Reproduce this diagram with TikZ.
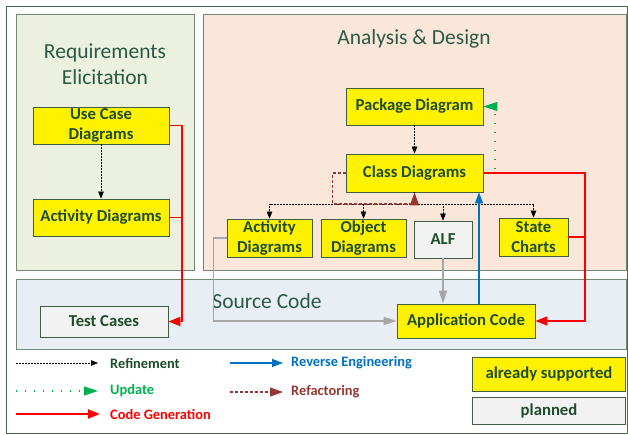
\documentclass[tikz,border=0pt]{standalone}
\usepackage{fontspec}
\setmainfont{Carlito}
\usetikzlibrary{arrows.meta,positioning,calc}

\definecolor{txtgreen}{HTML}{1E4D2B}
\definecolor{titlegreen}{HTML}{2A5A45}
\definecolor{frameedge}{HTML}{466A50}
\definecolor{areaedge}{HTML}{6F8B76}
\definecolor{boxedge}{HTML}{3F5F44}
\definecolor{reqfill}{HTML}{EBF1DE}
\definecolor{anafill}{HTML}{FBE7DA}
\definecolor{srcfill}{HTML}{E9EDF4}
\definecolor{planfill}{HTML}{F2F2F2}
\definecolor{genred}{HTML}{FF0000}
\definecolor{revblue}{HTML}{0070C0}
\definecolor{updgreen}{HTML}{00B050}
\definecolor{refbrown}{HTML}{943634}
\definecolor{plangray}{HTML}{A6A6A6}

\newcommand{\boxfont}{\bfseries\fontsize{16.7}{20}\selectfont}
\newcommand{\titlefont}{\fontsize{21.5}{26}\selectfont}
\newcommand{\legfont}{\bfseries\fontsize{14.4}{17}\selectfont}

\begin{document}
\begin{tikzpicture}[x=1pt,y=-1pt,
    area/.style={draw=areaedge, line width=0.9pt},
    box/.style={draw=boxedge, line width=0.8pt, fill=yellow, font=\boxfont,
      text=txtgreen, align=center, inner sep=0pt},
    planbox/.style={box, fill=planfill},
    areatitle/.style={font=\titlefont, text=titlegreen, align=center},
    legtxt/.style={font=\legfont, anchor=west, inner sep=0pt},
    refine/.style={black, line width=0.7pt, dash pattern=on 2pt off 1pt,
      -{Triangle[length=7pt,width=5.5pt]}},
    codegen/.style={genred, line width=1.8pt, -{Triangle[length=12pt,width=9pt]}},
    revarrow/.style={revblue, line width=1.5pt, -{Triangle[length=11pt,width=8pt]}},
    update/.style={updgreen, line width=1.3pt, dash pattern=on 1.3pt off 7.7pt,
      -{Triangle[length=14pt,width=9pt]}},
    refactor/.style={refbrown, line width=1.1pt, dash pattern=on 3pt off 2pt,
      -{Triangle[length=13pt,width=9pt]}},
    plan/.style={plangray, line width=1.5pt, -{Triangle[length=13pt,width=8pt]}}]
  \useasboundingbox (0,0) rectangle (628,434);
  \draw[frameedge, line width=0.9pt] (6,6) rectangle (627,433);

  % areas
  \draw[area, fill=reqfill] (16,14) rectangle (194,270);
  \draw[area, fill=anafill] (203,14) rectangle (626,270);
  \draw[area, fill=srcfill] (16,279) rectangle (626,349);
  \node[areatitle] (reqtitle) at (105,64) {Requirements\\Elicitation};
  \node[areatitle] (anatitle) at (414,39) {Analysis \& Design};
  \node[areatitle] (srctitle) at (267,301) {Source Code};

  % requirements
  \node[box, minimum width=136pt, minimum height=37pt] (uc) at (101,125.5) {Use Case\\Diagrams};
  \node[box, minimum width=136pt, minimum height=37pt] (actl) at (101,217.5) {Activity Diagrams};

  % analysis & design
  \node[box, minimum width=137pt, minimum height=37pt] (pkg) at (414.5,106.5) {Package Diagram};
  \node[box, minimum width=137pt, minimum height=38pt] (cls) at (414.5,173) {Class Diagrams};
  \node[box, minimum width=85pt, minimum height=38pt] (actm) at (269.5,238) {Activity\\Diagrams};
  \node[box, minimum width=85pt, minimum height=38pt] (obj) at (363.5,238) {Object\\Diagrams};
  \node[planbox, minimum width=58pt, minimum height=37pt] (alf) at (443,239.5) {ALF};
  \node[box, minimum width=69pt, minimum height=38pt] (sc) at (533.5,237) {State\\Charts};

  % source code
  \node[planbox, minimum width=128pt, minimum height=31pt] (tc) at (104,321.5) {Test Cases};
  \node[box, minimum width=138pt, minimum height=34pt] (app) at (466,321) {Application Code};

  % legend boxes
  \node[box, minimum width=153pt, minimum height=34pt] (lgsup) at (549,374) {already supported};
  \node[planbox, minimum width=153pt, minimum height=27pt] (lgplan) at (549,410.5) {planned};

  % refinement
  \coordinate (fork) at (414.5,204);
  \draw[refine] (uc) -- (actl);
  \draw[refine] (pkg) -- (cls);
  \draw[refine] (cls.south) -- (fork) -| (actm.north);
  \draw[refine] (cls.south) -- (fork) -| (obj.north);
  \draw[refine] (cls.south) -- (fork) -| (alf.north);
  \draw[refine] (cls.south) -- (fork) -| (sc.north);

  % refactoring
  \draw[refactor] (cls.west) -- ++(-13,0) |- (fork) -- (cls.south);

  % update
  \coordinate (updfoot) at (495,169);
  \draw[update] (updfoot) |- (pkg.east);

  % code generation
  \coordinate (busl) at (182,0);
  \coordinate (busr) at (585,0);
  \draw[codegen] (uc.east) -- (uc.east -| busl) |- (tc.east);
  \draw[genred, line width=1.8pt] (actl.east) -- (actl.east -| busl);
  \draw[codegen] (cls.east) -- (cls.east -| busr) |- (app.east);
  \draw[genred, line width=1.8pt] (sc.east) -- (sc.east -| busr);

  % reverse engineering
  \draw[revarrow] ([xshift=13pt]app.north) -- ([xshift=13pt]app.north |- cls.south);

  % planned generation
  \draw[plan] (alf.south) -- (alf.south |- app.north);
  \draw[plan] (actm.west) -- ++(-13,0) |- (app.west);

  % legend
  \node[legtxt, text=txtgreen] (lgref) at (110,363) {Refinement};
  \node[legtxt, text=updgreen] (lgupd) at (110,391) {Update};
  \node[legtxt, text=genred] (lggen) at (110,414) {Code Generation};
  \node[legtxt, text=revblue] (lgrev) at (291,363) {Reverse Engineering};
  \node[legtxt, text=refbrown] (lgfac) at (291,392) {Refactoring};
  \draw[refine] ([xshift=-94pt]lgref.west) -- ([xshift=-12pt]lgref.west);
  \draw[update] ([xshift=-94pt]lgupd.west) -- ([xshift=-12pt]lgupd.west);
  \draw[codegen] ([xshift=-94pt]lggen.west) -- ([xshift=-10pt]lggen.west);
  \draw[revarrow] ([xshift=-61pt]lgrev.west) -- ([xshift=-8pt]lgrev.west);
  \draw[refactor] ([xshift=-61pt]lgfac.west) -- ([xshift=-8pt]lgfac.west);
\end{tikzpicture}
\end{document}
